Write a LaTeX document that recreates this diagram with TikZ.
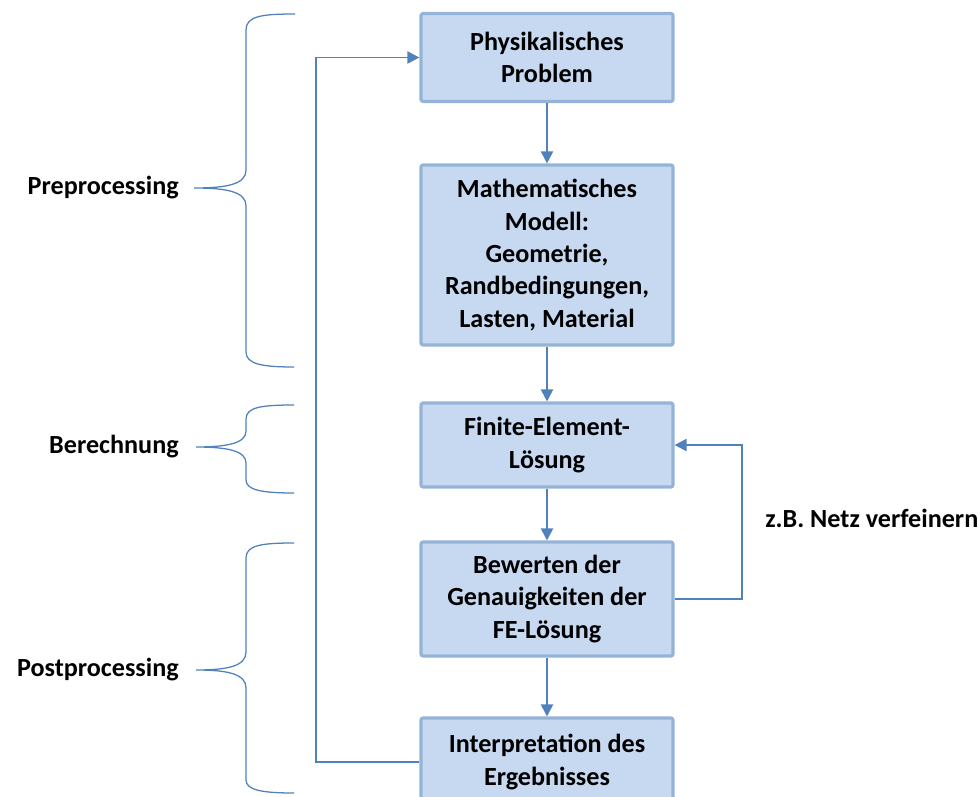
\documentclass[tikz,border=0pt]{standalone}
\usepackage{fontspec}
\setmainfont{Carlito}
\usepackage{xcolor}
\usepackage{tikz}
\usetikzlibrary{arrows.meta,calc,positioning}
\definecolor{fefill}{HTML}{C6D9F1}
\definecolor{feedge}{HTML}{95B3D7}
\definecolor{feline}{HTML}{4F81BD}
\newcommand{\fetext}{\fontsize{18.6pt}{23pt}\selectfont\bfseries}
\tikzset{
  fearr/.style={-{Triangle[length=0.3cm,width=0.3cm]}, line width=1.4pt, draw=feline},
  febox/.style={draw=feedge, fill=fefill, line width=2.2pt, rounded corners=1.5pt,
    minimum width=6.3cm, align=center, font=\fetext, inner sep=0pt},
  felab/.style={font=\fetext, anchor=east, inner sep=0pt},
  febrace/.style={draw=feline, line width=0.9pt}
}
\begin{document}
\begin{tikzpicture}[x=0.025cm,y=-0.025cm]
  \useasboundingbox (0,0) rectangle (978,796);
  % boxes
  \node[febox, minimum height=2.2cm] (phys)   at (547, 57.5) {Physikalisches\\Problem};
  \node[febox, minimum height=4.5cm] (model)  at (547,255)   {Mathematisches\\Modell:\\Geometrie,\\Randbedingungen,\\Lasten, Material};
  \node[febox, minimum height=2.1cm] (fem)    at (547,445)   {Finite-Element-\\Lösung};
  \node[febox, minimum height=2.85cm] (bewert) at (547,599)  {Bewerten der\\Genauigkeiten der\\FE-Lösung};
  \node[febox, minimum height=2.2cm] (interp) at (547,762)   {Interpretation des\\Ergebnisses};
  % labels
  \node[felab] (pre)  at (179,188) {Preprocessing};
  \node[felab] (ber)  at (179,447) {Berechnung};
  \node[felab] (post) at (179,670) {Postprocessing};
  \node[font=\fetext, anchor=west, inner sep=0pt] (netz) at (765,518) {z.B. Netz verfeinern};
  % arrows
  \draw[fearr] (phys) -- (model);
  \draw[fearr] (model) -- (fem);
  \draw[fearr] (fem) -- (bewert);
  \draw[fearr] (bewert) -- (interp);
  \draw[fearr] (bewert.east) -- ++(67,0) |- (fem.east);
  \draw[fearr] (interp.west) -- ++(-103,0) |- (phys.west);
  % braces
  \draw[febrace] (295,14) .. controls (262,14) and (246,16) .. (246,30) -- (246,170)
    .. controls (246,184) and (228,188) .. (194,188) .. controls (228,188) and (246,192) .. (246,206)
    -- (246,352) .. controls (246,364) and (262,367) .. (294,367);
  \draw[febrace] (294,405) .. controls (262,405) and (246,407) .. (246,419) -- (246,431)
    .. controls (246,443) and (228,447) .. (196,447) .. controls (228,447) and (246,451) .. (246,463)
    -- (246,480) .. controls (246,490) and (262,493) .. (294,493);
  \draw[febrace] (294,543) .. controls (262,543) and (246,545) .. (246,558) -- (246,652)
    .. controls (246,666) and (228,670) .. (196,670) .. controls (228,670) and (246,674) .. (246,688)
    -- (246,780) .. controls (246,790) and (262,793) .. (294,793);
\end{tikzpicture}
\end{document}
